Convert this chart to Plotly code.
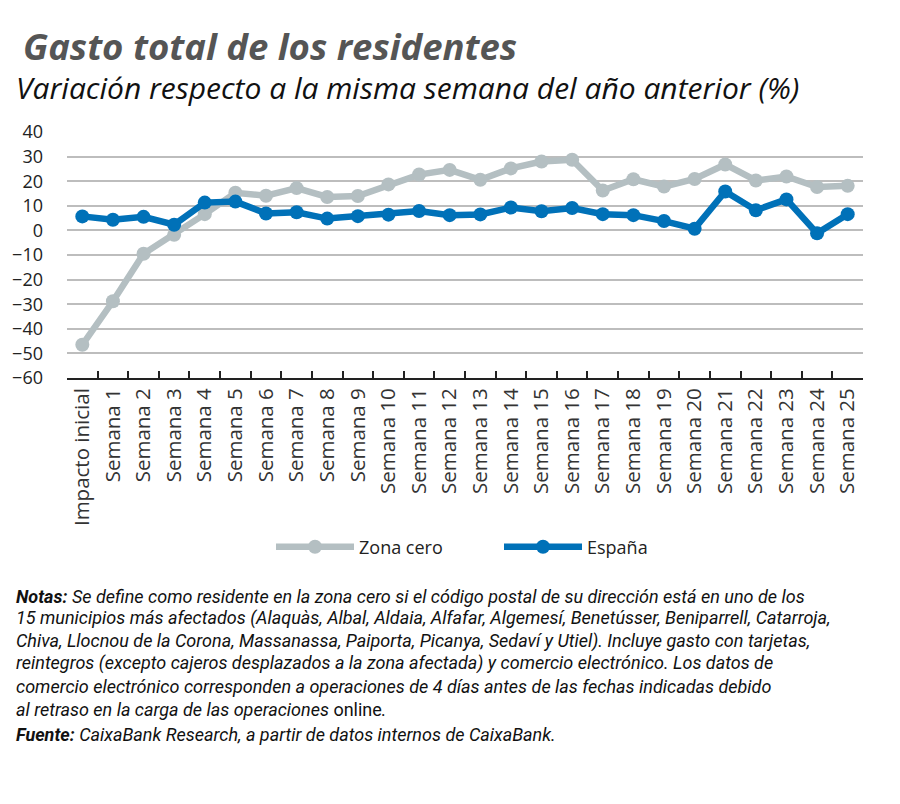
import plotly.graph_objects as go

categories = ["Impacto inicial"] + [f"Semana {i}" for i in range(1, 26)]
zona_cero = [-46.5, -28.8, -9.5, -1.8, 6.6, 15.3, 14.1, 17.2, 13.6, 14.0, 18.7, 22.7, 24.6,
             20.6, 25.2, 28.0, 28.7, 16.2, 20.8, 17.8, 20.9, 26.8, 20.3, 21.9, 17.6, 18.1]
espana = [5.7, 4.3, 5.5, 2.3, 11.3, 11.7, 6.9, 7.4, 4.8, 5.8, 6.4, 7.9, 6.2,
          6.5, 9.3, 7.8, 9.1, 6.6, 6.2, 3.8, 0.7, 15.8, 8.2, 12.6, -1.2, 6.6]
yticks = [-60, -50, -40, -30, -20, -10, 0, 10, 20, 30, 40]

GRAY = "#b4bfc2"
BLUE = "#0071b8"
FONT = "Open Sans"

# plot area geometry (px) used to place paper-referenced text
L, R, T, B = 67, 37, 132, 426
PW, PH = 900 - L - R, 804 - T - B


def px(x):
    return (x - L) / PW


def py(y):
    return (804 - B - y) / PH


fig = go.Figure()
fig.add_trace(go.Scatter(x=categories, y=zona_cero, name="Zona cero", mode="lines+markers",
                         line=dict(color=GRAY, width=6.5), marker=dict(color=GRAY, size=14)))
fig.add_trace(go.Scatter(x=categories, y=espana, name="España", mode="lines+markers",
                         line=dict(color=BLUE, width=6.5), marker=dict(color=BLUE, size=14)))

fig.update_layout(
    width=900, height=804,
    paper_bgcolor="white", plot_bgcolor="white",
    margin=dict(l=L, r=R, t=T, b=B),
    font=dict(family=FONT, color="#222222"),
    showlegend=True,
    legend=dict(orientation="h", x=0.5 + 34 / PW, xanchor="center", y=py(547), yanchor="middle",
                font=dict(size=18, color="#222"), itemwidth=78, entrywidth=135,
                traceorder="normal"),
    xaxis=dict(type="category", range=[-0.5, 25.5], showgrid=False,
               showline=True, linecolor="#222", linewidth=2,
               ticks="inside", ticklen=7, tickwidth=1.5, tickcolor="#222", tickson="boundaries",
               tickangle=-90, tickfont=dict(size=20.5, color="#333"), fixedrange=True),
    yaxis=dict(range=[-60, 40], tickvals=yticks, showgrid=True, gridcolor="#bdbdbd",
               gridwidth=1.5, zeroline=False, showline=False,
               tickfont=dict(size=18, color="#222"), ticklabelstandoff=23, fixedrange=True),
)

fig.add_annotation(text="<b><i>Gasto total de los residentes</i></b>", xref="paper", yref="paper",
                   x=px(21), xanchor="left", y=py(46), yanchor="middle",
                   showarrow=False, font=dict(size=36.5, color="#555555", family=FONT))
fig.add_annotation(text="<i>Variación respecto a la misma semana del año anterior (%)</i>",
                   xref="paper", yref="paper", x=px(14), xanchor="left", y=py(88), yanchor="middle",
                   showarrow=False, font=dict(size=30, color="#111111", family=FONT))

note_lines = [
    "<b><i>Notas:</i></b> <i>Se define como residente en la zona cero si el código postal de su dirección está en uno de los</i>",
    "<i>15 municipios más afectados (Alaquàs, Albal, Aldaia, Alfafar, Algemesí, Benetússer, Beniparrell, Catarroja,</i>",
    "<i>Chiva, Llocnou de la Corona, Massanassa, Paiporta, Picanya, Sedaví y Utiel). Incluye gasto con tarjetas,</i>",
    "<i>reintegros (excepto cajeros desplazados a la zona afectada) y comercio electrónico. Los datos de</i>",
    "<i>comercio electrónico corresponden a operaciones de 4 días antes de las fechas indicadas debido</i>",
    "<i>al retraso en la carga de las operaciones </i>online<i>.</i>",
    "<b><i>Fuente:</i></b> <i>CaixaBank Research, a partir de datos internos de CaixaBank.</i>",
]
note_y = [596, 618, 641, 663, 686, 709, 734]
for txt, yy in zip(note_lines, note_y):
    fig.add_annotation(text=txt, xref="paper", yref="paper", x=px(14), xanchor="left",
                       y=py(yy), yanchor="middle", align="left", showarrow=False,
                       font=dict(size=18, color="#111111", family="Roboto"))

fig.write_html("out.html")
